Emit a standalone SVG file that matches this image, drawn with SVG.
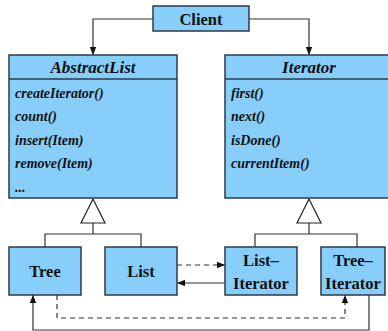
<svg xmlns="http://www.w3.org/2000/svg" width="388" height="331" viewBox="0 0 388 331">
  <defs>
    <style>
      .box { fill: #87cefa; stroke: #2b3a48; stroke-width: 1.5; }
      .sep { stroke: #2b3a48; stroke-width: 1.5; fill: none; }
      .line { stroke: #333; stroke-width: 1.2; fill: none; }
      .dash { stroke: #333; stroke-width: 1.2; fill: none; stroke-dasharray: 5 4; }
      .tri { fill: #fff; stroke: #222; stroke-width: 1.2; }
      .title { font-family: "Liberation Serif", "Times New Roman", serif; font-weight: bold; font-size: 16.5px; fill: #111; text-anchor: middle; }
      .head { font-family: "Liberation Serif", "Times New Roman", serif; font-weight: bold; font-style: italic; font-size: 17px; fill: #111; text-anchor: middle; }
      .op { font-family: "Liberation Serif", "Times New Roman", serif; font-weight: bold; font-style: italic; font-size: 14px; fill: #111; }
    </style>
    <marker id="arrow" viewBox="0 0 10 10" refX="10" refY="5" markerWidth="8" markerHeight="8" markerUnits="userSpaceOnUse" orient="auto">
      <path d="M0,1 L10,5 L0,9 Z" fill="#111"/>
    </marker>
  </defs>

  <!-- connectors -->
  <g id="connectors">
    <!-- Client to AbstractList / Iterator -->
    <polyline class="line" points="153,19 93,19 93,55" marker-end="url(#arrow)"/>
    <polyline class="line" points="249,19 309,19 309,55" marker-end="url(#arrow)"/>
    <!-- inheritance: AbstractList -->
    <polygon class="tri" points="93,199 81,223 105,223"/>
    <polyline class="line" points="93,223 93,234"/>
    <polyline class="line" points="45,247 45,234 141,234 141,247"/>
    <!-- inheritance: Iterator -->
    <polygon class="tri" points="309,199 297,223 321,223"/>
    <polyline class="line" points="309,223 309,234"/>
    <polyline class="line" points="255,247 255,234 357,234 357,247"/>
    <!-- List <-> ListIterator -->
    <polyline class="dash" points="177,265 225,265" marker-end="url(#arrow)"/>
    <polyline class="line" points="225,283 177,283" marker-end="url(#arrow)"/>
    <!-- Tree <-> TreeIterator -->
    <polyline class="dash" points="57,295 57,318 345,318 345,295" marker-end="url(#arrow)"/>
    <polyline class="line" points="369,295 369,330 33,330 33,295" marker-end="url(#arrow)"/>
  </g>

  <g id="client">
    <rect class="box" x="153" y="6" width="96" height="25"/>
    <text class="title" x="201" y="24.5">Client</text>
  </g>

  <g id="abstractlist">
    <rect class="box" x="9" y="55" width="168" height="143"/>
    <line class="sep" x1="9" y1="79" x2="177" y2="79"/>
    <text class="head" x="93" y="73">AbstractList</text>
    <text class="op" x="15" y="98">createIterator()</text>
    <text class="op" x="15" y="121">count()</text>
    <text class="op" x="15" y="145">insert(Item)</text>
    <text class="op" x="15" y="168">remove(Item)</text>
    <text class="op" x="15" y="192">...</text>
  </g>

  <g id="iterator">
    <rect class="box" x="225" y="55" width="170" height="143"/>
    <line class="sep" x1="225" y1="79" x2="395" y2="79"/>
    <text class="head" x="309" y="73">Iterator</text>
    <text class="op" x="231" y="98">first()</text>
    <text class="op" x="231" y="121">next()</text>
    <text class="op" x="231" y="145">isDone()</text>
    <text class="op" x="231" y="168">currentItem()</text>
  </g>

  <g id="tree">
    <rect class="box" x="9" y="247" width="72" height="48"/>
    <text class="title" x="45" y="277">Tree</text>
  </g>

  <g id="list">
    <rect class="box" x="105" y="247" width="72" height="48"/>
    <text class="title" x="141" y="277">List</text>
  </g>

  <g id="listiterator">
    <rect class="box" x="225" y="247" width="72" height="48"/>
    <text class="title" x="261" y="266">List–</text>
    <text class="title" x="261" y="289">Iterator</text>
  </g>

  <g id="treeiterator">
    <rect class="box" x="321" y="247" width="64" height="48"/>
    <text class="title" x="353" y="266">Tree–</text>
    <text class="title" x="353" y="289">Iterator</text>
  </g>
</svg>
